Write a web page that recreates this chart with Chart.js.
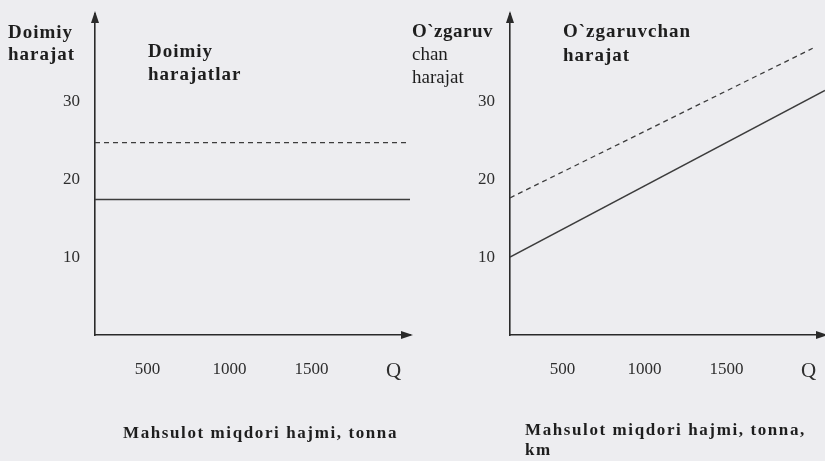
<!DOCTYPE html>
<html>
<head>
<meta charset="utf-8">
<script src="https://cdn.jsdelivr.net/npm/chart.js@4.4.1/dist/chart.umd.min.js"></script>
<style>
  html, body { margin:0; padding:0; background:#ededf0; overflow:hidden; }
  body { width:825px; height:461px; position:relative; font-family:"Liberation Serif","Times New Roman",serif; color:#1e1e1e; }
  .panel { position:absolute; top:0; width:415px; height:461px; }
  .lbl { position:absolute; white-space:nowrap; font-size:19px; }
  .b { font-weight:bold; letter-spacing:1px; }
  .cap { position:absolute; white-space:nowrap; font-weight:bold; font-size:17px; letter-spacing:1.6px; line-height:20px; }
</style>
</head>
<body>
<div class="panel" style="left:0"><canvas id="c1" width="415" height="461"></canvas></div>
<div class="panel" style="left:415px"><canvas id="c2" width="415" height="461"></canvas></div>

<div class="lbl b" style="left:8px; top:21px; line-height:22px;">Doimiy<br>harajat</div>
<div class="lbl b" style="left:148px; top:39px; line-height:23px;">Doimiy<br>harajatlar</div>
<div class="lbl" style="left:412px; top:19px; line-height:23px;"><span class="b" style="letter-spacing:0.5px">O`zgaruv</span><br>chan<br>harajat</div>
<div class="lbl b" style="left:563px; top:19px; line-height:24px;">O`zgaruvchan<br>harajat</div>

<div class="cap" style="left:123px; top:423px;">Mahsulot miqdori hajmi, tonna</div>
<div class="cap" style="left:525px; top:420px;">Mahsulot miqdori hajmi, tonna,<br>km</div>

<script>
// ---- data ----
const xTicks = [500, 1000, 1500, 2000];          // 2000 is shown as "Q"
const yTicks = [10, 20, 30];
const xRange = [180, 2100];
const yRange = [0, 41.2];

// Left chart: fixed costs
const fixedSolidX = [180, 2100];
const fixedSolidY = [17.4, 17.4];
const fixedDashX  = [180, 2100];
const fixedDashY  = [24.7, 24.7];

// Right chart: variable costs
const varSolidX = [180, 2100];
const varSolidY = [10, 31.4];
const varDashX  = [180, 2025];
const varDashY  = [17.6, 36.8];

const FONT = '"Liberation Serif","Times New Roman",serif';
const INK = '#2a2a2a';

function pts(xs, ys) { return xs.map((x, i) => ({ x: x, y: ys[i] })); }

const arrows = {
  id: 'arrows',
  afterDraw(chart) {
    const { ctx, chartArea: a } = chart;
    ctx.save();
    ctx.fillStyle = INK;
    ctx.beginPath();
    ctx.moveTo(a.left, a.top - 3);
    ctx.lineTo(a.left - 4, a.top + 9);
    ctx.lineTo(a.left + 4, a.top + 9);
    ctx.closePath();
    ctx.fill();
    ctx.beginPath();
    ctx.moveTo(a.right + 3, a.bottom);
    ctx.lineTo(a.right - 9, a.bottom - 4);
    ctx.lineTo(a.right - 9, a.bottom + 4);
    ctx.closePath();
    ctx.fill();
    ctx.restore();
  }
};

function makeChart(id, solid, dashed) {
  return new Chart(document.getElementById(id), {
    type: 'line',
    data: {
      datasets: [
        { data: solid, borderColor: '#3c3c3c', borderWidth: 1.5, pointRadius: 0, tension: 0 },
        { data: dashed, borderColor: '#3c3c3c', borderWidth: 1.3, borderDash: [5, 4], pointRadius: 0, tension: 0 }
      ]
    },
    options: {
      responsive: false,
      animation: false,
      events: [],
      layout: { padding: { top: 14, right: 5, left: 0, bottom: 0 } },
      plugins: { legend: { display: false }, tooltip: { enabled: false } },
      scales: {
        x: {
          type: 'linear',
          min: xRange[0], max: xRange[1],
          grid: { display: false, drawTicks: false },
          border: { display: true, color: INK, width: 1.6 },
          afterFit(s) { s.height = 126; s.paddingLeft = 0; s.paddingRight = 0; },
          afterBuildTicks(s) { s.ticks = xTicks.map(v => ({ value: v })); },
          ticks: {
            padding: 24,
            color: '#2e2e2e',
            autoSkip: false,
            maxRotation: 0,
            font: (c) => ({ family: FONT, size: (c.tick && c.tick.value === 2000) ? 21 : 17 }),
            callback: (v) => v === 2000 ? 'Q' : String(v)
          }
        },
        y: {
          type: 'linear',
          min: yRange[0], max: yRange[1],
          grid: { display: false, drawTicks: false },
          border: { display: true, color: INK, width: 1.6 },
          afterFit(s) { s.width = 95; s.paddingTop = 0; s.paddingBottom = 0; },
          afterBuildTicks(s) { s.ticks = yTicks.map(v => ({ value: v })); },
          ticks: {
            padding: 15,
            color: '#2e2e2e',
            font: { family: FONT, size: 17 },
            callback: (v) => String(v)
          }
        }
      }
    },
    plugins: [arrows]
  });
}

makeChart('c1', pts(fixedSolidX, fixedSolidY), pts(fixedDashX, fixedDashY));
makeChart('c2', pts(varSolidX, varSolidY), pts(varDashX, varDashY));
</script>
</body>
</html>
